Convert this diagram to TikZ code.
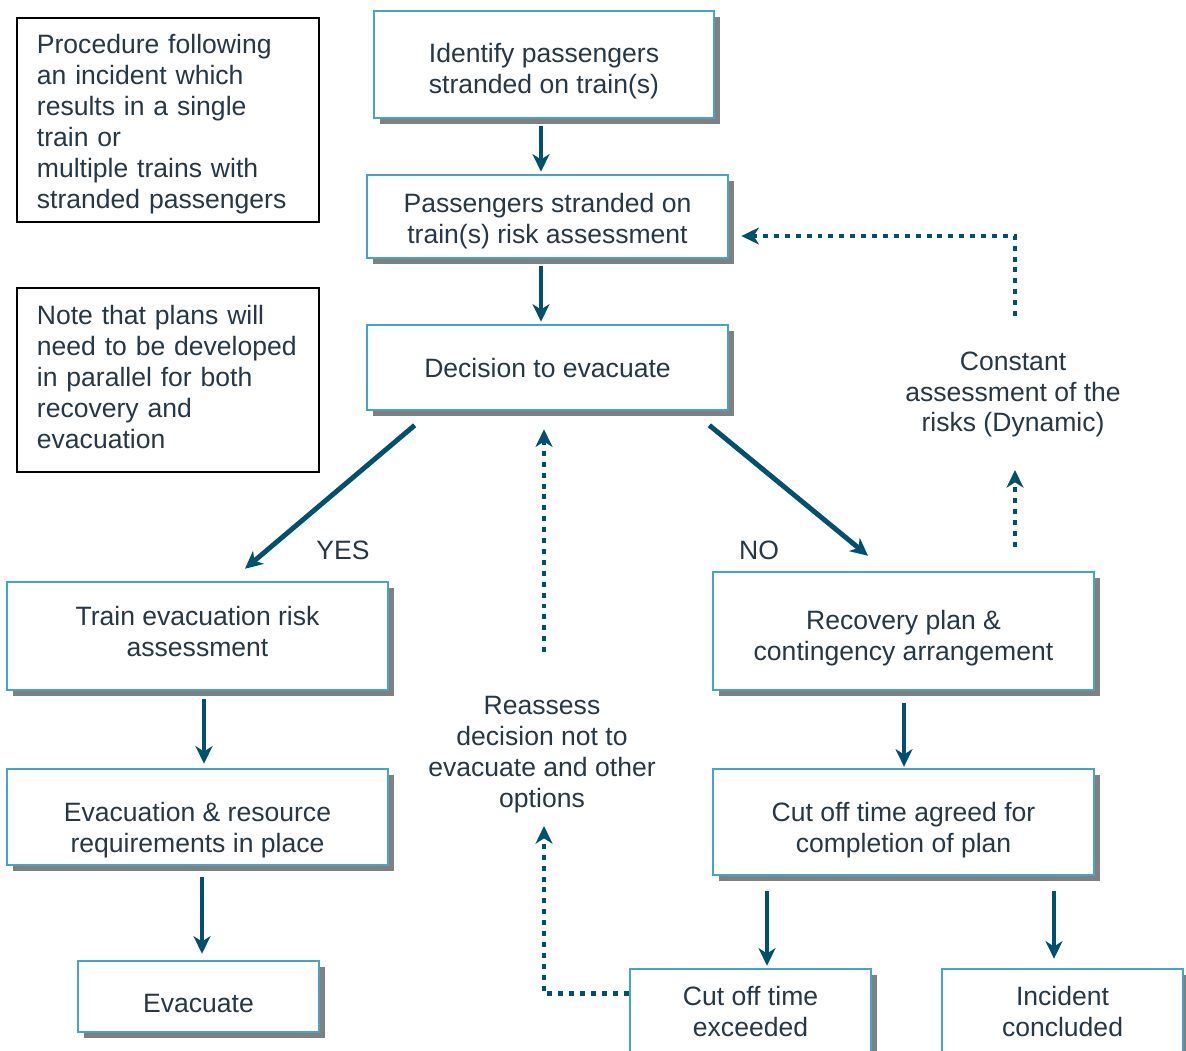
\documentclass[tikz,border=0pt]{standalone}
\usepackage{fontspec}
\setmainfont{Liberation Sans}
\usetikzlibrary{arrows.meta,shadows,calc}
\definecolor{boxblue}{HTML}{45A5C6}
\definecolor{flowteal}{HTML}{00506E}
\definecolor{inkslate}{HTML}{263746}

\begin{document}
\begin{tikzpicture}[x=0.01cm, y=-0.01cm, every node/.style={font=\fontsize{7.55}{8.8}\selectfont, text=inkslate}]
\tikzset{box/.style={draw=boxblue, line width=0.7pt, fill=white, inner sep=0pt, drop shadow={shadow xshift=0.06cm, shadow yshift=-0.06cm, fill=black!50, opacity=1}}}
\tikzset{boxtext/.style={align=center, inner sep=0pt}}
\tikzset{note/.style={draw=black, line width=0.6pt, fill=white, inner sep=0pt, minimum width=3.02cm}}
\tikzset{notetext/.style={align=left, text width=2.62cm, inner sep=0pt}}
\tikzset{flow/.style={draw=flowteal, line width=1.4pt, -{Stealth[length=5pt, width=4.8pt, inset=1.5pt]}}}
\tikzset{loopback/.style={flow, dash pattern=on 1.4pt off 1.7pt}}
\useasboundingbox (0,0) rectangle (1186,1050);
% side notes
\node[note, minimum height=2.04cm] (proc) at (168,120) {};
\node[notetext] (proctxt) at ($(proc)+(0,4)$) {Procedure following\\an incident which\\results in a single\\train or\\multiple trains with\\stranded passengers};
\node[note, minimum height=1.84cm] (plan) at (168,380) {};
\node[notetext] (plantxt) at ($(plan)+(0,-3)$) {Note that plans will\\need to be developed\\in parallel for both\\recovery and\\evacuation};
% main column
\node[box, minimum width=3.40cm, minimum height=1.07cm] (ident) at (544,64.5) {};
\node[boxtext] (identtxt) at ($(ident)+(0,7)$) {Identify passengers\\stranded on train(s)};
\node[box, minimum width=3.61cm, minimum height=0.83cm] (strand) at (547.5,216.5) {};
\node[boxtext] (strandtxt) at ($(strand)+(0,4.5)$) {Passengers stranded on\\train(s) risk assessment};
\node[box, minimum width=3.61cm, minimum height=0.85cm] (decide) at (547.5,367.5) {};
\node[boxtext] (decidetxt) at (decide) {Decision to evacuate};
% evacuation branch
\node[box, minimum width=3.81cm, minimum height=1.08cm] (evrisk) at (197.5,636) {};
\node[boxtext] (evrisktxt) at ($(evrisk)+(0,-4.5)$) {Train evacuation risk\\assessment};
\node[box, minimum width=3.81cm, minimum height=0.96cm] (evres) at (197.5,817) {};
\node[boxtext] (evrestxt) at ($(evres)+(0,13)$) {Evacuation \& resource\\requirements in place};
\node[box, minimum width=2.41cm, minimum height=0.71cm] (evac) at (198.5,996.5) {};
\node[boxtext] (evactxt) at ($(evac)+(0,7)$) {Evacuate};
% recovery branch
\node[box, minimum width=3.81cm, minimum height=1.18cm] (recov) at (903.5,631) {};
\node[boxtext] (recovtxt) at ($(recov)+(0,7)$) {Recovery plan \&\\contingency arrangement};
\node[box, minimum width=3.81cm, minimum height=1.06cm] (cutoff) at (903.5,822) {};
\node[boxtext] (cutofftxt) at ($(cutoff)+(0,8)$) {Cut off time agreed for\\completion of plan};
\node[box, minimum width=2.41cm, minimum height=0.84cm] (exceed) at (750.5,1011) {};
\node[boxtext] (exceedtxt) at (exceed) {Cut off time\\exceeded};
\node[box, minimum width=2.41cm, minimum height=0.84cm] (done) at (1062.5,1011) {};
\node[boxtext] (donetxt) at (done) {Incident\\concluded};
% free texts
\node[boxtext] (const) at (1013,394.5) {Constant\\assessment of the\\risks (Dynamic)};
\node[boxtext] (reass) at (542,755) {Reassess\\decision not to\\evacuate and other\\options};
\node (yes) at (343,550) {YES};
\node (no) at (759,550) {NO};
% solid flow
\draw[flow] ($(ident.south)+(-3,7)$) -- ($(strand.north)+(-6.5,-2)$);
\draw[flow] ($(strand.south)+(-6.5,7)$) -- ($(decide.north)+(-6.5,-2)$);
\draw[flow] ($(decide.south west)+(49,14)$) -- ($(evrisk.north)+(47.5,-12)$);
\draw[flow] ($(decide.south east)+(-20,14)$) -- ($(recov.north)+(-35.5,-15)$);
\draw[flow] ($(evrisk.south)+(6.5,8)$) -- ($(evres.north)+(6.5,-4)$);
\draw[flow] ($(evres.south)+(4.5,11)$) -- ($(evac.north)+(3.5,-6)$);
\draw[flow] ($(recov.south)+(0.5,12)$) -- ($(cutoff.north)+(0.5,-1)$);
\draw[flow] ($(cutoff.south -| exceed.north)+(16.5,15)$) -- ($(exceed.north)+(16.5,-2)$);
\draw[flow] ($(cutoff.south -| done.north)+(-8.5,15)$) -- ($(done.north)+(-8.5,-9)$);
% dotted feedback
\draw[loopback] ($(const.center)+(2,-78.5)$) |- ($(strand.east)+(12,19.5)$);
\draw[loopback] ($(recov.north)+(111.5,-24)$) -- ($(const.center)+(2,75.5)$);
\draw[loopback] ($(exceed.west)+(0,-18)$) -| ($(reass.center)+(2,71)$);
\draw[loopback] ($(reass.center)+(2,-103)$) -- ($(decide.south)+(-3.5,18)$);
\end{tikzpicture}
\end{document}
